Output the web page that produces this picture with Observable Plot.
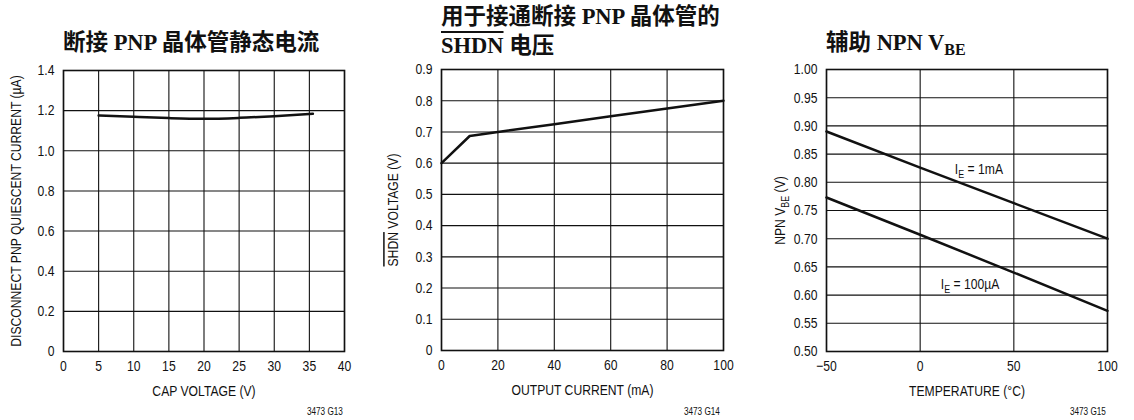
<!DOCTYPE html>
<html><head><meta charset="utf-8">
<script src="https://cdn.jsdelivr.net/npm/d3@7"></script>
<script src="https://cdn.jsdelivr.net/npm/@observablehq/plot@0.6"></script>
<style>
body{margin:0;background:#fff;}
#wrap{position:relative;width:1134px;height:420px;overflow:hidden;font-family:"Liberation Sans",Arial,sans-serif;color:#111;}
.panel{position:absolute;top:0;}
.title{position:absolute;font-family:"Liberation Serif","Noto Sans CJK SC",serif;font-weight:bold;font-size:22.5px;line-height:29px;color:#111;white-space:nowrap;}
.title sub{font-size:16px;vertical-align:-5px;line-height:0;}
.code{position:absolute;top:406px;font-size:10px;line-height:12px;text-align:right;transform:scaleX(0.82);transform-origin:right center;}
</style>
</head><body>
<div id="wrap">
  <div class="title" style="left:63px;top:28px;">断接 PNP 晶体管静态电流</div>
  <div class="title" style="left:441px;top:2px;">用于接通断接 PNP 晶体管的<br><span style="text-decoration:overline">SHDN</span> 电压</div>
  <div class="title" style="left:826px;top:28px;">辅助 NPN V<sub>BE</sub></div>
  <div id="p1" class="panel" style="left:0px"></div>
  <div id="p2" class="panel" style="left:378px"></div>
  <div id="p3" class="panel" style="left:756px"></div>
  <div class="code" style="right:791px;">3473 G13</div>
  <div class="code" style="right:414px;">3473 G14</div>
  <div class="code" style="right:28px;">3473 G15</div>
</div>
<script>
// Panel 1: Disconnect PNP quiescent current vs cap voltage
const capVoltage = [5, 10, 15, 20, 25, 30, 35.5];
const quiescentCurrent = [1.176, 1.169, 1.163, 1.159, 1.164, 1.172, 1.184];
const p1XTicks = [0, 5, 10, 15, 20, 25, 30, 35, 40];
const p1YTicks = [0, 0.2, 0.4, 0.6, 0.8, 1.0, 1.2, 1.4];

// Panel 2: SHDN voltage vs output current
const outputCurrent = [0, 10, 20, 40, 60, 80, 100];
const shdnVoltage = [0.6, 0.687, 0.70, 0.725, 0.75, 0.775, 0.80];
const p2XTicks = [0, 20, 40, 60, 80, 100];
const p2YTicks = [0, 0.1, 0.2, 0.3, 0.4, 0.5, 0.6, 0.7, 0.8, 0.9];

// Panel 3: Auxiliary NPN VBE vs temperature
const temperature = [-50, 0, 50, 100];
const vbe1mA = [0.89, 0.826, 0.763, 0.70];
const vbe100uA = [0.773, 0.707, 0.640, 0.572];
const p3XTicks = [-50, 0, 50, 100];
const p3YTicks = [0.50, 0.55, 0.60, 0.65, 0.70, 0.75, 0.80, 0.85, 0.90, 0.95, 1.00];
const curveLabels = [
  {t: 18.5, v: 0.824, text: "IE = 1mA"},
  {t: 11, v: 0.620, text: "IE = 100µA"}
];

const FONT = '"Liberation Sans",Arial,sans-serif';
const CONDENSE = 0.81;

function makePanel({xDomain, yDomain, xTicks, yTicks, xFmt, yFmt, xLabel, yLabel, mL, mR, mT, mB, yLabelOffset, marks}) {
  return Plot.plot({
    width: 378, height: 420,
    marginLeft: mL, marginRight: mR, marginTop: mT, marginBottom: mB,
    style: {fontFamily: FONT, fontSize: "15px", color: "#111", background: "transparent", overflow: "visible"},
    x: {domain: xDomain, ticks: xTicks, tickFormat: xFmt, tickSize: 0, tickPadding: 9, label: xLabel, labelArrow: "none", labelAnchor: "center", labelOffset: 44},
    y: {domain: yDomain, ticks: yTicks, tickFormat: yFmt, tickSize: 0, tickPadding: 9, label: yLabel, labelArrow: "none", labelAnchor: "center", labelOffset: yLabelOffset},
    marks: [
      Plot.gridX(xTicks, {stroke: "#111", strokeOpacity: 1, strokeWidth: 1.1}),
      Plot.gridY(yTicks, {stroke: "#111", strokeOpacity: 1, strokeWidth: 1.1}),
      Plot.frame({stroke: "#111", strokeWidth: 1.6}),
      ...marks
    ]
  });
}

function styleLabels(svg) {
  d3.select(svg).selectAll("text").each(function() {
    const el = d3.select(this);
    let t = this.textContent.replace(/[→↑←↓]/g, "").trim();
    if (t === "SHDN VOLTAGE (V)") {
      this.textContent = "";
      el.append("tspan").text("SHDN").style("text-decoration", "overline");
      el.append("tspan").text(" VOLTAGE (V)");
    } else if (t === "NPN VBE (V)") {
      this.textContent = "";
      el.append("tspan").text("NPN V");
      el.append("tspan").text("BE").attr("dy", 4).attr("font-size", "11px");
      el.append("tspan").text(" (V)").attr("dy", -4);
    } else if (t.startsWith("IE = ")) {
      this.textContent = "";
      el.append("tspan").text("I");
      el.append("tspan").text("E").attr("dy", 4).attr("font-size", "11px");
      el.append("tspan").text(" " + t.slice(3)).attr("dy", -4);
    } else if (t !== this.textContent) {
      this.textContent = t;
    }
  });
  return svg;
}

function condense(svg) {
  d3.select(svg).selectAll("text").each(function() {
    const w = this.getComputedTextLength();
    if (w > 0) {
      this.setAttribute("textLength", (w * CONDENSE).toFixed(2));
      this.setAttribute("lengthAdjust", "spacingAndGlyphs");
    }
  });
}

function mount(id, svg) {
  styleLabels(svg);
  document.getElementById(id).appendChild(svg);
  condense(svg);
}

const fmt1 = d => d === 0 ? "0" : d.toFixed(1);

mount("p1", makePanel({
  xDomain: [0, 40], yDomain: [0, 1.4], xTicks: p1XTicks, yTicks: p1YTicks,
  xFmt: d => String(d), yFmt: fmt1,
  xLabel: "CAP VOLTAGE (V)", yLabel: "DISCONNECT PNP QUIESCENT CURRENT (µA)",
  mL: 63, mR: 34, mT: 70, mB: 69, yLabelOffset: 53,
  marks: [Plot.line(capVoltage.map((x, i) => ({x, y: quiescentCurrent[i]})), {x: "x", y: "y", stroke: "#111", strokeWidth: 2.5, curve: "natural"})]
}));

mount("p2", makePanel({
  xDomain: [0, 100], yDomain: [0, 0.9], xTicks: p2XTicks, yTicks: p2YTicks,
  xFmt: d => String(d), yFmt: fmt1,
  xLabel: "OUTPUT CURRENT (mA)", yLabel: "SHDN VOLTAGE (V)",
  mL: 63, mR: 33, mT: 69, mB: 70, yLabelOffset: 54,
  marks: [Plot.line(outputCurrent.map((x, i) => ({x, y: shdnVoltage[i]})), {x: "x", y: "y", stroke: "#111", strokeWidth: 2.5})]
}));

mount("p3", makePanel({
  xDomain: [-50, 100], yDomain: [0.5, 1.0], xTicks: p3XTicks, yTicks: p3YTicks,
  xFmt: d => d < 0 ? "\u2212" + Math.abs(d) : String(d), yFmt: d => d.toFixed(2),
  xLabel: "TEMPERATURE (°C)", yLabel: "NPN VBE (V)",
  mL: 70, mR: 27, mT: 69, mB: 69, yLabelOffset: 52,
  marks: [
    Plot.line(temperature.map((x, i) => ({x, y: vbe1mA[i]})), {x: "x", y: "y", stroke: "#111", strokeWidth: 2.5}),
    Plot.line(temperature.map((x, i) => ({x, y: vbe100uA[i]})), {x: "x", y: "y", stroke: "#111", strokeWidth: 2.5}),
    Plot.text(curveLabels, {x: "t", y: "v", text: "text", textAnchor: "start", fontSize: 15, fill: "#111"})
  ]
}));
</script>
</body></html>
